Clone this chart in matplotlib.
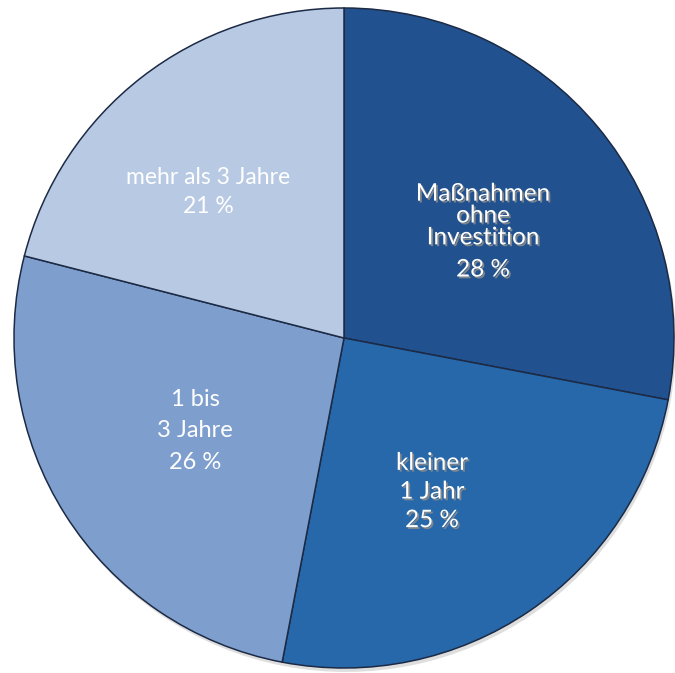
import matplotlib
matplotlib.use("Agg")
import matplotlib.pyplot as plt
import matplotlib.patheffects as pe

# data
labels = ["Maßnahmen\nohne\nInvestition", "kleiner\n1 Jahr", "1 bis\n3 Jahre", "mehr als 3 Jahre"]
values = [28, 25, 26, 21]
colors = ["#21528f", "#2668aa", "#7e9fcd", "#b8c9e3"]

fig = plt.figure(figsize=(6.75, 6.73), dpi=100)
ax = fig.add_axes([0, 0, 1, 1])

# pie centre at pixel (344, 338), radius 330 px
R = 330.0
cx, cy = 344.0, 338.0

# faint shadow under the pie
shadow, _ = ax.pie(values, radius=1.0, center=(0.006, -0.012), startangle=90,
                   counterclock=False, colors=["#c8c8c8"] * 4,
                   wedgeprops=dict(linewidth=0))
for w in shadow:
    w.set_alpha(0.6)

wedges, _ = ax.pie(values, radius=1.0, startangle=90, counterclock=False,
                   colors=colors,
                   wedgeprops=dict(edgecolor="#1c2a45", linewidth=1.1))

ax.set_xlim(-cx / R, (675 - cx) / R)
ax.set_ylim(-(673 - cy) / R, cy / R)
ax.set_aspect("equal")
ax.axis("off")

shade = [pe.withSimplePatchShadow(offset=(1.3, -1.3), shadow_rgbFace="#8a8a8a", alpha=0.9)]


def put(px, py, s, size, ls=1.2, effects=()):
    ax.text((px - cx) / R, (cy - py) / R, s, ha="center", va="center",
            color="white", fontsize=size, family="Lato", linespacing=ls,
            path_effects=list(effects))


put(483, 216, labels[0], 17.5, ls=1.05, effects=shade)
put(483, 270, f"{values[0]} %", 17.5, effects=shade)
put(432, 492, labels[1] + f"\n{values[1]} %", 17.5, ls=1.45, effects=shade)
put(195, 431, labels[2] + f"\n{values[2]} %", 17, ls=1.6)
put(208, 192, labels[3] + f"\n{values[3]} %", 16.5, ls=1.45)

fig.savefig("out.png", dpi=100)
